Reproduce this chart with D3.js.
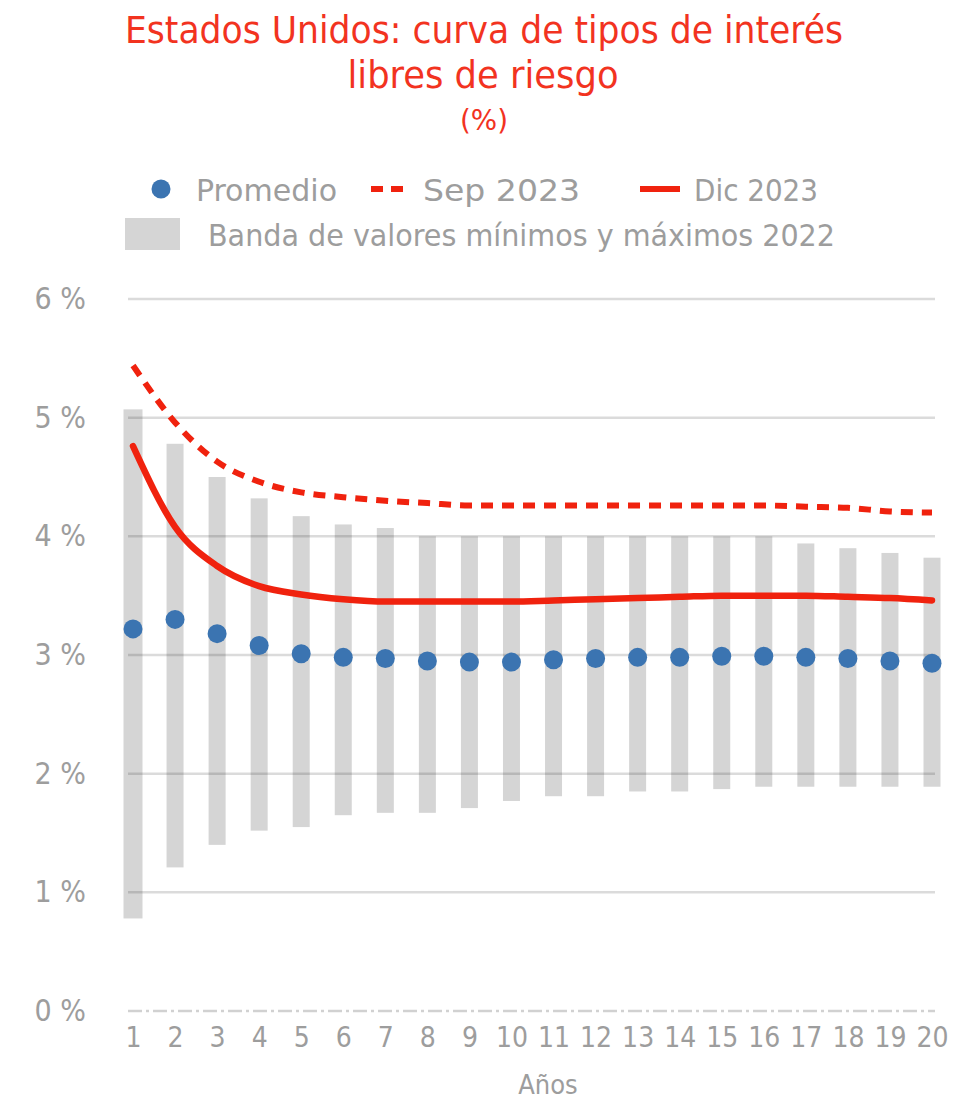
<!DOCTYPE html>
<html><head><meta charset="utf-8">
<script src="https://cdn.jsdelivr.net/npm/d3@7"></script>
<style>
html,body{margin:0;padding:0;background:#fff;}
text{font-family:'Liberation Sans Narrow','DejaVu Sans Condensed','Roboto',sans-serif;}
</style></head>
<body><svg id="c" width="957" height="1103"></svg>
<script>
const years = [1,2,3,4,5,6,7,8,9,10,11,12,13,14,15,16,17,18,19,20];
const promedio = [3.22,3.30,3.18,3.08,3.01,2.98,2.97,2.95,2.94,2.94,2.96,2.97,2.98,2.98,2.99,2.99,2.98,2.97,2.95,2.93];
const sep2023 = [5.44,4.96,4.63,4.46,4.37,4.33,4.30,4.28,4.26,4.26,4.26,4.26,4.26,4.26,4.26,4.26,4.25,4.24,4.21,4.20];
const dic2023 = [4.76,4.08,3.75,3.58,3.51,3.47,3.45,3.45,3.45,3.45,3.46,3.47,3.48,3.49,3.50,3.50,3.50,3.49,3.48,3.46];
const bandMax = [5.07,4.78,4.50,4.32,4.17,4.10,4.07,4.00,4.00,4.00,4.00,4.00,4.00,4.00,4.00,4.00,3.94,3.90,3.86,3.82];
const bandMin = [0.78,1.21,1.40,1.52,1.55,1.65,1.67,1.67,1.71,1.77,1.81,1.81,1.85,1.85,1.87,1.89,1.89,1.89,1.89,1.89];
const yTicks = [0,1,2,3,4,5,6];
const titleLines = ["Estados Unidos: curva de tipos de interés","libres de riesgo","(%)"];
const legendLabels = ["Promedio","Sep 2023","Dic 2023","Banda de valores mínimos y máximos 2022"];
const xTitle = "Años";

const RED = "#f0220e", BLUE = "#3b74b1", GREY_TXT = "#9d9d9d", BAR = "#d5d5d5";
const svg = d3.select("#c");

const x = d3.scalePoint().domain(years).range([133, 932]);
const y = d3.scaleLinear().domain([0, 6]).range([1011, 299]);

// Title
const tl = svg.append("g");
tl.append("text").attr("x",484).attr("y",43).attr("text-anchor","middle")
  .attr("fill","#f2331f").attr("font-size",37).attr("textLength",718).attr("lengthAdjust","spacingAndGlyphs").text(titleLines[0]);
tl.append("text").attr("x",483).attr("y",88).attr("text-anchor","middle")
  .attr("fill","#f2331f").attr("font-size",37).attr("textLength",271).attr("lengthAdjust","spacingAndGlyphs").text(titleLines[1]);
tl.append("text").attr("x",484).attr("y",130).attr("text-anchor","middle")
  .attr("fill","#f2331f").attr("font-size",28).attr("textLength",48).attr("lengthAdjust","spacingAndGlyphs").text(titleLines[2]);

// Legend
const lg = svg.append("g");
lg.append("circle").attr("cx",161).attr("cy",189).attr("r",9.5).attr("fill",BLUE);
lg.append("text").attr("x",196).attr("y",201).attr("fill",GREY_TXT).attr("font-size",31)
  .attr("textLength",141).attr("lengthAdjust","spacingAndGlyphs").text(legendLabels[0]);
lg.append("line").attr("x1",371).attr("x2",410).attr("y1",189).attr("y2",189)
  .attr("stroke",RED).attr("stroke-width",6).attr("stroke-dasharray","12,8");
lg.append("text").attr("x",423).attr("y",201).attr("fill",GREY_TXT).attr("font-size",31)
  .attr("textLength",157).attr("lengthAdjust","spacingAndGlyphs").text(legendLabels[1]);
lg.append("line").attr("x1",640).attr("x2",680).attr("y1",189).attr("y2",189)
  .attr("stroke",RED).attr("stroke-width",6);
lg.append("text").attr("x",694).attr("y",201).attr("fill",GREY_TXT).attr("font-size",31)
  .attr("textLength",124).attr("lengthAdjust","spacingAndGlyphs").text(legendLabels[2]);
lg.append("rect").attr("x",125).attr("y",218).attr("width",55).attr("height",32).attr("fill",BAR);
lg.append("text").attr("x",208).attr("y",246).attr("fill",GREY_TXT).attr("font-size",31)
  .attr("textLength",627).attr("lengthAdjust","spacingAndGlyphs").text(legendLabels[3]);

// Bars
svg.append("g").selectAll("rect").data(years).join("rect")
  .attr("x", (d,i) => x(d) - (i===0 ? 9.5 : 8.5))
  .attr("width", (d,i) => i===0 ? 19 : 17)
  .attr("y", (d,i) => y(bandMax[i]))
  .attr("height", (d,i) => y(bandMin[i]) - y(bandMax[i]))
  .attr("fill", BAR);

// Gridlines
const gx0 = x(1) - 5, gx1 = x(20) + 3;
svg.append("g").selectAll("line").data(yTicks.filter(t => t > 0)).join("line")
  .attr("x1", gx0).attr("x2", gx1)
  .attr("y1", d => y(d)).attr("y2", d => y(d))
  .attr("stroke", "#000").attr("stroke-opacity", 0.14).attr("stroke-width", 2.5);
svg.append("line").attr("x1", gx0).attr("x2", gx1).attr("y1", y(0)).attr("y2", y(0))
  .attr("stroke", "#000").attr("stroke-opacity", 0.18).attr("stroke-width", 2.5)
  .attr("stroke-dasharray", "14,4,3,4");

// Y axis labels
const yAxis = d3.axisLeft(y).tickValues(yTicks).tickFormat(d => d + " %").tickSize(0).tickPadding(0);
const ya = svg.append("g").attr("transform","translate(86,0)").call(yAxis);
ya.select(".domain").remove();
ya.selectAll("text").attr("fill", GREY_TXT).attr("font-size", 30)
  .attr("font-family","'Liberation Sans Narrow','DejaVu Sans Condensed',sans-serif");

// X axis labels
const xAxis = d3.axisBottom(x).tickSize(0).tickPadding(0);
const xa = svg.append("g").attr("transform","translate(0,1027)").call(xAxis);
xa.select(".domain").remove();
xa.selectAll("text").attr("fill", GREY_TXT).attr("font-size", 28)
  .attr("font-family","'Liberation Sans Narrow','DejaVu Sans Condensed',sans-serif");

svg.append("text").attr("x",548).attr("y",1094).attr("text-anchor","middle")
  .attr("fill",GREY_TXT).attr("font-size",27).text(xTitle);

// Lines
const line = vals => d3.line().x((d,i) => x(years[i])).y(d => y(d)).curve(d3.curveMonotoneX)(vals);
svg.append("path").attr("d", line(sep2023)).attr("fill","none").attr("stroke",RED)
  .attr("stroke-width",6).attr("stroke-dasharray","12,9");
svg.append("path").attr("d", line(dic2023)).attr("fill","none").attr("stroke",RED)
  .attr("stroke-width",6.5).attr("stroke-linecap","round");

// Dots
svg.append("g").selectAll("circle").data(promedio).join("circle")
  .attr("cx", (d,i) => x(years[i])).attr("cy", d => y(d)).attr("r", 9.5).attr("fill", BLUE);
</script></body></html>
